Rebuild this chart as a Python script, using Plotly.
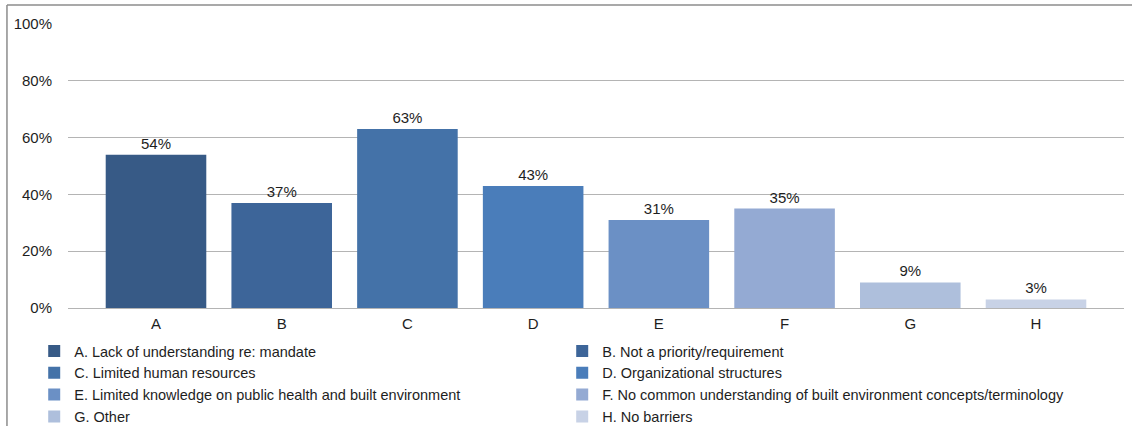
import plotly.graph_objects as go

categories = ["A", "B", "C", "D", "E", "F", "G", "H"]
values = [54, 37, 63, 43, 31, 35, 9, 3]
legend_labels = [
    "A. Lack of understanding re: mandate",
    "B. Not a priority/requirement",
    "C. Limited human resources",
    "D. Organizational structures",
    "E. Limited knowledge on public health and built environment",
    "F. No common understanding of built environment concepts/terminology",
    "G. Other",
    "H. No barriers",
]
colors = ["#375a86", "#3d6599", "#4472a8", "#4a7dba", "#6b90c5", "#94aad3", "#aebfdc", "#c8d2e6"]

FONT = "Liberation Sans, Arial, sans-serif"
TXT = "#1e1e1e"

fig = go.Figure()
for cat, val, lab, col in zip(categories, values, legend_labels, colors):
    fig.add_trace(go.Bar(
        x=[cat], y=[val], name=lab,
        marker=dict(color=col, line=dict(width=0)),
        width=0.8,
        text=[f"{val}%"], textposition="outside",
        textfont=dict(family=FONT, size=15, color=TXT),
        cliponaxis=False,
    ))

fig.update_layout(
    width=1132, height=426,
    margin=dict(l=68, r=8, t=24, b=118, autoexpand=False),
    paper_bgcolor="white", plot_bgcolor="white",
    barmode="overlay",
    font=dict(family=FONT, size=15, color=TXT),
    showlegend=True,
    legend=dict(
        orientation="h", x=-0.032, xanchor="left", y=-0.095, yanchor="top",
        entrywidth=483, entrywidthmode="pixels",
        font=dict(family=FONT, size=14.5, color=TXT),
        itemwidth=30, tracegroupgap=0, traceorder="normal",
        bgcolor="rgba(0,0,0,0)",
    ),
    xaxis=dict(
        type="category", range=[-0.7, 7.7], showgrid=False, showline=False,
        ticks="", ticklabelstandoff=5,
        tickfont=dict(family=FONT, size=15, color=TXT),
    ),
    yaxis=dict(
        range=[0, 100], dtick=20, ticksuffix="%", showgrid=True,
        gridcolor="#b4b4b4", gridwidth=1, zeroline=True, zerolinecolor="#b4b4b4",
        zerolinewidth=1, showline=False, ticks="", ticklabelstandoff=15,
        tickfont=dict(family=FONT, size=15, color=TXT),
    ),
    shapes=[
        dict(type="line", xref="paper", yref="paper", x0=-0.0578, x1=-0.0578,
             y0=1.0669, y1=-0.42, line=dict(color="#8c8c8c", width=1.5)),
        dict(type="line", xref="paper", yref="paper", x0=-0.0578, x1=1.01,
             y0=1.0669, y1=1.0669, line=dict(color="#8c8c8c", width=1.5)),
    ],
)

fig.write_html("out.html")
